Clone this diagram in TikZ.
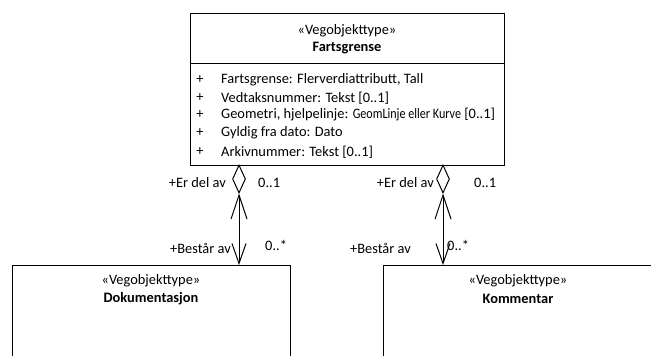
\documentclass[tikz,border=0pt]{standalone}
\usepackage{fontspec}
\setmainfont{Carlito}
\usetikzlibrary{shapes.geometric,arrows.meta}
\begin{document}
\begin{tikzpicture}[x=1pt,y=-1pt,
  box/.style={draw,line width=1pt,anchor=north west,inner sep=0pt},
  txt/.style={font=\fontsize{14.4}{17}\selectfont,inner sep=0pt},
  bold/.style={txt,font=\fontsize{14.4}{17}\selectfont\bfseries},
  agg/.style={diamond,draw,line width=1pt,fill=white,inner sep=0pt,minimum width=13pt,minimum height=28pt},
  assoc/.style={line width=1pt,{Straight Barb[length=24pt,width=16pt,line width=1pt]}-{Straight Barb[length=20pt,width=14pt,line width=1pt]}}
]
\useasboundingbox (0,0) rectangle (651,356);
% main class
\node[box,minimum width=314pt,minimum height=152pt] (fart) at (190,13) {};
\draw[line width=1pt] (fart.west |- 0,63) coordinate (dl) -- (fart.east |- 0,63) coordinate (dr);
\node[txt] (fs) at (347,31) {«Vegobjekttype»};
\node[bold] (fn) at (347,48) {Fartsgrense};
\foreach \yy/\t [count=\i] in {80/{Fartsgrense: Flerverdiattributt, Tall},
  98/{Vedtaksnummer: Tekst [0..1]},
  115/{Geometri, hjelpelinje: \scalebox{0.84}[1]{GeomLinje eller Kurve} [0..1]},
  133/{Gyldig fra dato: Dato},
  152/{Arkivnummer: Tekst [0..1]}}{
  \node[txt] (p\i) at (200,\yy) {+};
  \node[txt,anchor=west] (a\i) at (221,\yy) {\t};
}
% lower classes
\node[box,minimum width=278pt,minimum height=110pt] (dok) at (12,265) {};
\node[txt] (ds) at (151,281) {«Vegobjekttype»};
\node[bold] (dn) at (151,299) {Dokumentasjon};
\node[box,minimum width=280pt,minimum height=110pt] (kom) at (383,265) {};
\node[txt] (ks) at (518,281) {«Vegobjekttype»};
\node[bold] (kn) at (518,299) {Kommentar};
% aggregation diamonds
\node[agg] (dL) at (239,179) {};
\node[agg] (dR) at (443,179) {};
\draw[assoc] (dL.south) -- (dL.south |- dok.north);
\draw[assoc] (dR.south) -- (dR.south |- kom.north);
% labels
\node[txt,anchor=east] (l1) at (226,183) {+Er del av};
\node[txt,anchor=west] (l2) at (258,183) {0..1};
\node[txt,anchor=east] (l3) at (231,248) {+Består av};
\node[txt,anchor=west] (l4) at (265,245) {0..*};
\node[txt,anchor=east] (r1) at (434,183) {+Er del av};
\node[txt,anchor=west] (r2) at (474,183) {0..1};
\node[txt,anchor=east] (r3) at (411,248) {+Består av};
\node[txt,anchor=west] (r4) at (447,245) {0..*};
\end{tikzpicture}
\end{document}
